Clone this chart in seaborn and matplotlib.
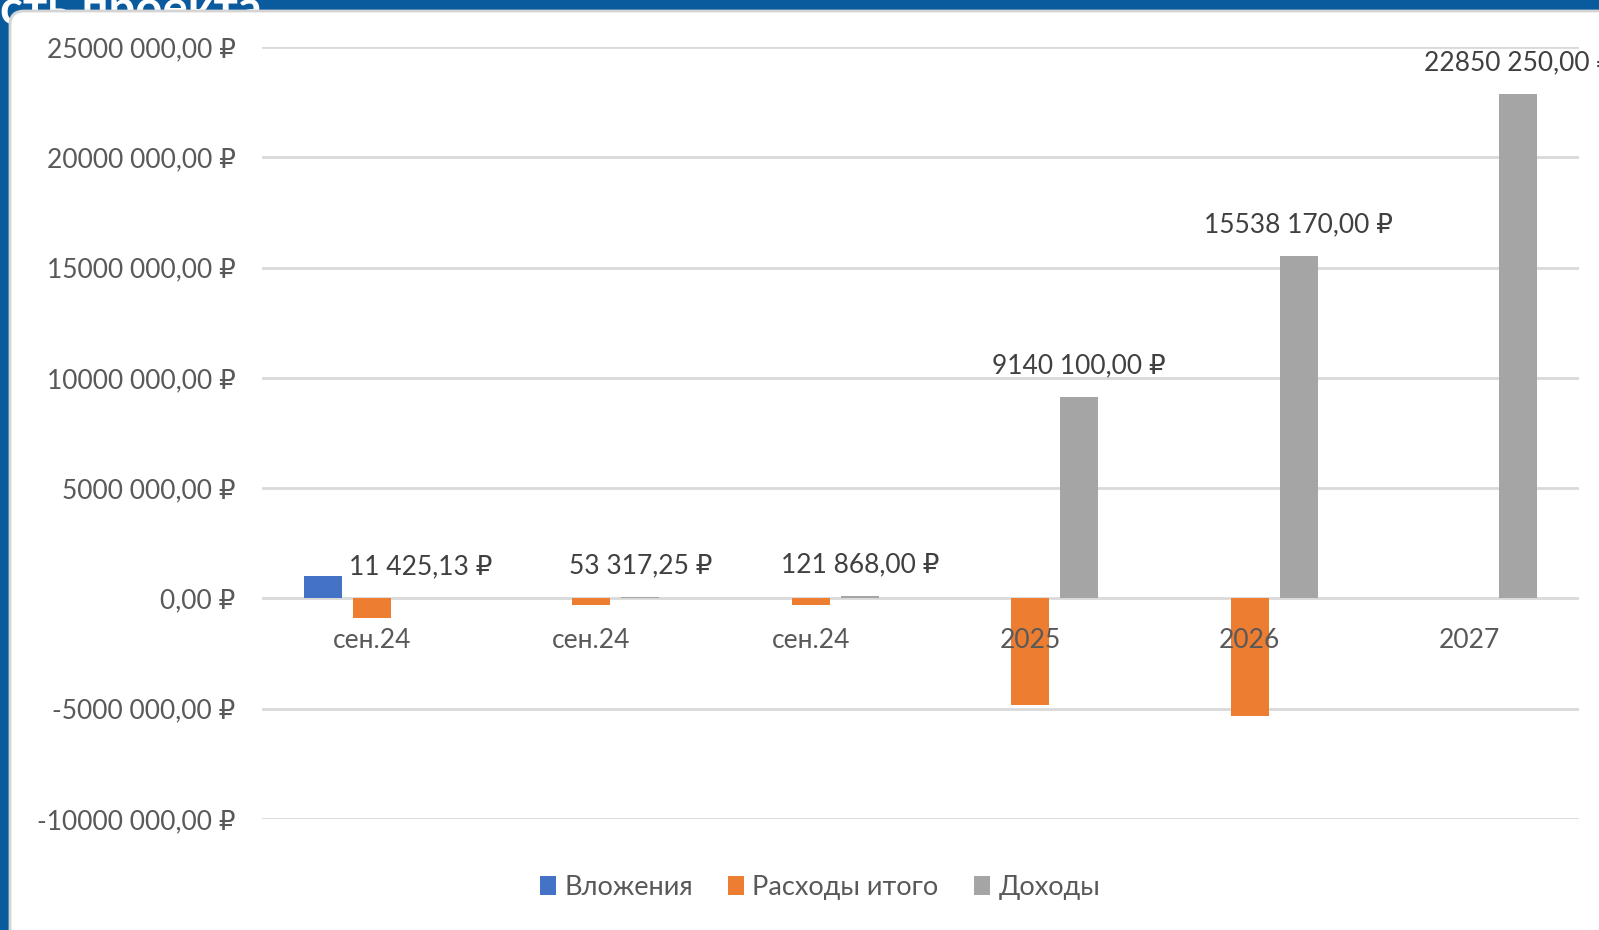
import matplotlib
matplotlib.use('Agg')
import matplotlib.pyplot as plt
import seaborn as sns
import pandas as pd
from matplotlib.patches import FancyBboxPatch, Patch

# данные
categories = ['сен.24', 'сен.24', 'сен.24', '2025', '2026', '2027']
series = ['Вложения', 'Расходы итого', 'Доходы']
vlozheniya = [1000000, 0, 0, 0, 0, 0]
rashody = [-900000, -300000, -300000, -4850000, -5350000, 0]
dohody = [11425.13, 53317.25, 121868.00, 9140100.00, 15538170.00, 22850250.00]
y_ticks = [-10000000, -5000000, 0, 5000000, 10000000, 15000000, 20000000, 25000000]

colors = ['#4472C4', '#ED7D31', '#A5A5A5']
text_color = '#595959'

sns.set_style('white')
plt.rcParams['font.family'] = ['Lato', 'DejaVu Sans']


def rub(v):
    neg = v < 0
    cents = int(round(abs(v) * 100))
    whole, frac = divmod(cents, 100)
    if whole >= 1000:
        s = f"{whole // 1000} {whole % 1000:03d}"
    else:
        s = str(whole)
    return ('-' if neg else '') + f"{s},{frac:02d} ₽"


n = len(categories)
df = pd.DataFrame({
    'idx': list(range(n)) * 3,
    'series': [series[0]] * n + [series[1]] * n + [series[2]] * n,
    'value': vlozheniya + rashody + dohody,
})

fig = plt.figure(figsize=(15.99, 9.30), dpi=100)
fig.patch.set_facecolor('#0a5a9e')

# обрезанный заголовок слайда за панелью
fig.text(0.0, 1 - 24 / 930, 'сть проекта', color='white', fontsize=34,
         fontweight='bold', va='baseline', ha='left', zorder=0)

# белая панель
panel = FancyBboxPatch((10, -30), 1640, 930 - 11 + 30,
                       boxstyle='round,pad=0,rounding_size=14',
                       facecolor='white', edgecolor='#d4d4d4', linewidth=2,
                       transform=None, zorder=0.5)
fig.add_artist(panel)

ax = fig.add_axes([262 / 1599, 1 - 819 / 930, (1579 - 262) / 1599, (819 - 47) / 930])
ax.set_zorder(2)
ax.patch.set_alpha(0)

# сетка позади столбцов
for t in y_ticks:
    ax.axhline(t, color='#d9d9d9', linewidth=2, zorder=0.5)

sns.barplot(data=df, x='idx', y='value', hue='series', hue_order=series,
            palette=colors, saturation=1, width=0.67, gap=0.23, linewidth=0,
            errorbar=None, legend=False, ax=ax)

ax.set_xlim(-0.5, n - 0.5)
ax.set_ylim(y_ticks[0], y_ticks[-1])
ax.set_yticks(y_ticks)
ax.set_yticklabels([rub(v) for v in y_ticks])
ax.set_xticks(range(n))
ax.set_xticklabels(categories)
ax.set_xlabel('')
ax.set_ylabel('')

for s in ax.spines.values():
    s.set_visible(False)
ax.spines['bottom'].set_position(('data', 0))
ax.grid(False)
ax.set_axisbelow(False)
ax.tick_params(axis='y', length=0, pad=19, labelsize=19, labelcolor=text_color)
ax.tick_params(axis='x', length=0, pad=21, labelsize=19, labelcolor=text_color)

# подписи доходов
gray = ax.containers[2]
for bar, val in zip(gray, dohody):
    x = bar.get_x() + bar.get_width() / 2
    ax.annotate(rub(val), (x, val), xytext=(0, 22.5), textcoords='offset points',
                ha='center', va='center', fontsize=19, color='#404040',
                annotation_clip=False)

handles = [Patch(facecolor=c, edgecolor='none') for c in colors]
fig.legend(handles, series, loc='center', bbox_to_anchor=(820 / 1599, 1 - 887 / 930),
           ncol=3, frameon=False, fontsize=19.5, handlelength=0.6, handleheight=0.7,
           handletextpad=0.3, columnspacing=1.3, labelcolor=text_color)

fig.savefig('out.png', dpi=100, facecolor=fig.get_facecolor())
